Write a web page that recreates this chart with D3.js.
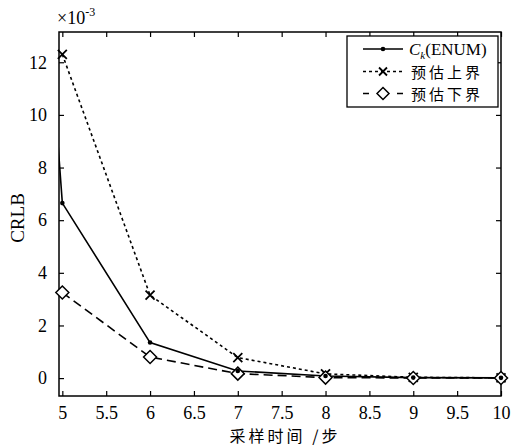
<!DOCTYPE html>
<html>
<head>
<meta charset="utf-8">
<script src="https://cdn.jsdelivr.net/npm/d3@7"></script>
<style>
body{margin:0;background:#fff;}
text{font-family:"Liberation Serif","Times New Roman",serif;fill:#000;}
.cjk{font-family:"Noto Sans CJK SC",sans-serif;}
</style>
</head>
<body>
<div id="chart"></div>
<script>
//Canvas size
var w=512;
var h=447;
var m={left:59,right:11,top:32,bottom:51};

//Data (values in units of 1e-3)
var steps=[5,6,7,8,9,10];
var enumSteps=[4.9,5,6,7,8,9,10];
var enumVals=[11.2,6.65,1.35,0.27,0.08,0.02,0.01];
var upperVals=[12.3,3.15,0.78,0.16,0.03,0.01];
var lowerVals=[3.25,0.8,0.17,0.02,0.005,0.002];
var xTicks=[5,5.5,6,6.5,7,7.5,8,8.5,9,9.5,10];
var yTicks=[0,2,4,6,8,10,12];
var legendLabels=["预估上界","预估下界"];

var svg=d3.select("#chart").append("svg").attr("width",w).attr("height",h);

var x=d3.scaleLinear().domain([4.962,10]).range([m.left,w-m.right]);
var y=d3.scaleLinear().domain([-0.68,13.15]).range([h-m.bottom,m.top]);

svg.append("defs").append("clipPath").attr("id","clip")
   .append("rect").attr("x",m.left).attr("y",m.top)
   .attr("width",w-m.right-m.left).attr("height",h-m.bottom-m.top);

//Axes with inward ticks on all four sides
var tl=5;
function noDomain(g){
    g.select(".domain").remove();
    g.attr("font-family","Liberation Serif").attr("font-size",18);
}
svg.append("g").attr("transform","translate(0,"+(h-m.bottom)+")")
   .call(d3.axisBottom(x).tickValues(xTicks).tickSizeInner(-tl).tickSizeOuter(0).tickPadding(10).tickFormat(d3.format("")))
   .call(noDomain);
svg.append("g").attr("transform","translate(0,"+m.top+")")
   .call(d3.axisTop(x).tickValues(xTicks).tickSizeInner(-tl).tickSizeOuter(0).tickFormat(""))
   .call(noDomain);
svg.append("g").attr("transform","translate("+m.left+",0)")
   .call(d3.axisLeft(y).tickValues(yTicks).tickSizeInner(-tl).tickSizeOuter(0).tickPadding(12))
   .call(noDomain);
svg.append("g").attr("transform","translate("+(w-m.right)+",0)")
   .call(d3.axisRight(y).tickValues(yTicks).tickSizeInner(-tl).tickSizeOuter(0).tickFormat(""))
   .call(noDomain);
svg.selectAll(".tick text").style("font-size","18px").style("font-family","'Liberation Serif',serif");
svg.selectAll(".tick line").attr("stroke","#000").attr("stroke-width",1.2);

//Box
svg.append("rect").attr("x",m.left).attr("y",m.top)
   .attr("width",w-m.right-m.left).attr("height",h-m.bottom-m.top)
   .attr("fill","none").attr("stroke","#000").attr("stroke-width",1.5);

var line=d3.line().x(function(d){return x(d[0]);}).y(function(d){return y(d[1]);});
var plot=svg.append("g").attr("clip-path","url(#clip)");

//Upper bound (dotted, x markers)
var upper=d3.zip(steps,upperVals);
plot.append("path").datum(upper).attr("d",line).attr("fill","none")
    .attr("stroke","#000").attr("stroke-width",1.6).attr("stroke-dasharray","3,3");
//Lower bound (dashed, diamonds)
var lower=d3.zip(steps,lowerVals);
plot.append("path").datum(lower).attr("d",line).attr("fill","none")
    .attr("stroke","#000").attr("stroke-width",1.6).attr("stroke-dasharray","9,5");
//ENUM (solid, dots)
var en=d3.zip(enumSteps,enumVals);
plot.append("path").datum(en).attr("d",line).attr("fill","none")
    .attr("stroke","#000").attr("stroke-width",1.6);

function cross(g,cx,cy,s){
    g.append("path").attr("d","M"+(cx-s)+","+(cy-s)+"L"+(cx+s)+","+(cy+s)+"M"+(cx-s)+","+(cy+s)+"L"+(cx+s)+","+(cy-s))
     .attr("stroke","#000").attr("stroke-width",1.8).attr("fill","none");
}
function diamond(g,cx,cy,s){
    g.append("path").attr("d","M"+cx+","+(cy-s)+"L"+(cx+s)+","+cy+"L"+cx+","+(cy+s)+"L"+(cx-s)+","+cy+"Z")
     .attr("stroke","#000").attr("stroke-width",1.5).attr("fill","#fff");
}
var mk=svg.append("g");
upper.forEach(function(d){cross(mk,x(d[0]),y(d[1]),4.5);});
lower.forEach(function(d){diamond(mk,x(d[0]),y(d[1]),6.5);});
en.filter(function(d){return d[0]>=5;}).forEach(function(d){
    mk.append("circle").attr("cx",x(d[0])).attr("cy",y(d[1])).attr("r",2.3).attr("fill","#000");
});

//Exponent label
var ex=svg.append("text").attr("x",57).attr("y",24).style("font-size","18px");
ex.append("tspan").text("×10");
ex.append("tspan").attr("dy",-8).style("font-size","12px").text("-3");

//Axis titles
svg.append("text").attr("transform","translate(24,218) rotate(-90)")
   .attr("text-anchor","middle").style("font-size","19px").text("CRLB");
svg.append("text").attr("class","cjk").attr("x",(m.left+w-m.right)/2+5).attr("y",442)
   .attr("text-anchor","middle").style("font-size","16px").style("letter-spacing","3px").text("采样时间 /步");

//Legend
var lg=svg.append("g");
lg.append("rect").attr("x",347).attr("y",36).attr("width",151).attr("height",71)
  .attr("fill","#fff").attr("stroke","#000").attr("stroke-width",1.3);
var ly=[49,71.5,93.5];
var lx0=363, lx1=403;
lg.append("line").attr("x1",lx0).attr("x2",lx1).attr("y1",ly[0]).attr("y2",ly[0]).attr("stroke","#000").attr("stroke-width",1.6);
lg.append("circle").attr("cx",(lx0+lx1)/2).attr("cy",ly[0]).attr("r",2.3).attr("fill","#000");
lg.append("line").attr("x1",lx0).attr("x2",lx1).attr("y1",ly[1]).attr("y2",ly[1]).attr("stroke","#000").attr("stroke-width",1.6).attr("stroke-dasharray","3,3");
cross(lg,(lx0+lx1)/2,ly[1],4);
lg.append("line").attr("x1",lx0).attr("x2",lx1).attr("y1",ly[2]).attr("y2",ly[2]).attr("stroke","#000").attr("stroke-width",1.6).attr("stroke-dasharray","6,11");
diamond(lg,(lx0+lx1)/2,ly[2],6);

var t0=lg.append("text").attr("x",409).attr("y",ly[0]+6).style("font-size","17px");
t0.append("tspan").style("font-style","italic").text("C");
t0.append("tspan").attr("dy",4).style("font-style","italic").style("font-size","11px").text("k");
t0.append("tspan").attr("dy",-4).text("(ENUM)");
legendLabels.forEach(function(s,i){
    lg.append("text").attr("class","cjk").attr("x",411).attr("y",ly[i+1]+6)
      .style("font-size","15px").style("letter-spacing","3px").text(s);
});
</script>
</body>
</html>
